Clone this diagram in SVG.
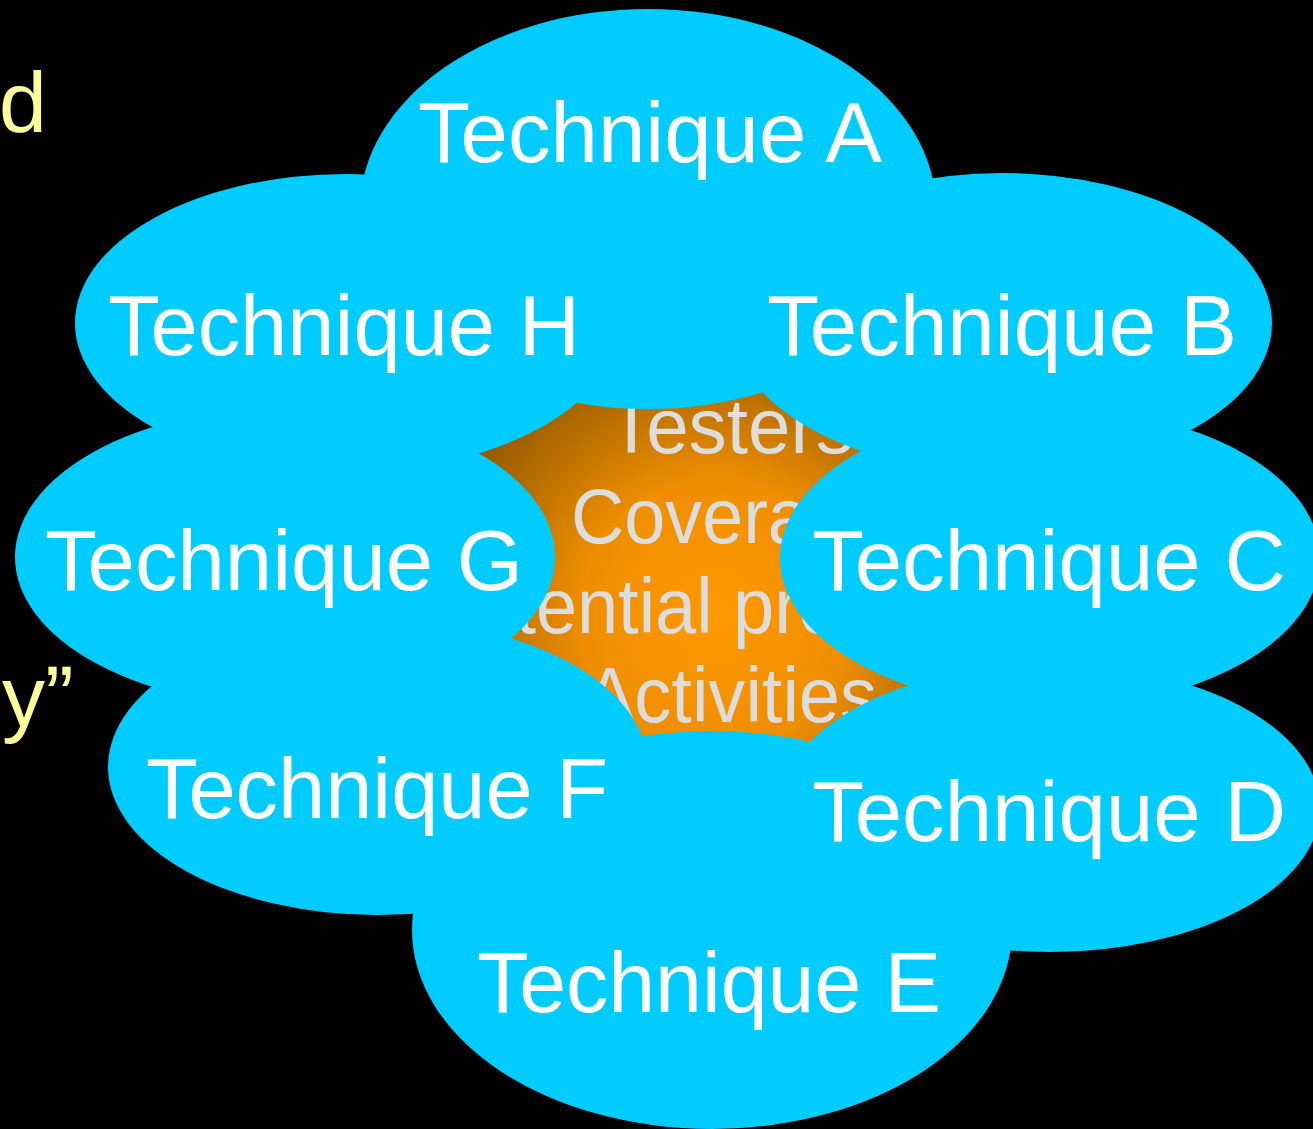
<svg xmlns="http://www.w3.org/2000/svg" width="1313" height="1129" viewBox="0 0 1313 1129">
  <style>
    .petal { fill: #00CCFF; }
    .label { fill: #FFFFFF; font-family: "Liberation Sans", Arial, sans-serif; font-size: 86px; text-anchor: middle; }
    .core { fill: #DDDDDD; font-family: "Liberation Sans", Arial, sans-serif; font-size: 77px; text-anchor: middle; }
    .side { fill: #FFFF99; font-family: "Liberation Sans", Arial, sans-serif; font-size: 86px; }
  </style>
  <defs>
    <radialGradient id="coreFill" gradientUnits="userSpaceOnUse" cx="715" cy="615" r="300">
      <stop offset="0" stop-color="#FF9900"/>
      <stop offset="0.45" stop-color="#EE8E00"/>
      <stop offset="1" stop-color="#8A5400"/>
    </radialGradient>
    <clipPath id="coreClip">
      <rect x="470" y="385" width="445" height="360"/>
    </clipPath>
  </defs>

  <rect width="1313" height="1129" fill="#000000"/>

  <!-- fragments of the slide text at the left edge -->
  <text class="side" x="-1" y="132">d</text>
  <text class="side" x="2" y="726">y”</text>

  <!-- centre: the dimensions seen through the gap between the petals -->
  <g id="core">
    <rect x="470" y="385" width="445" height="360" fill="url(#coreFill)"/>
    <g clip-path="url(#coreClip)">
      <text class="core" x="731" y="453" textLength="246" lengthAdjust="spacingAndGlyphs">Testers</text>
      <text class="core" x="731" y="543" textLength="320" lengthAdjust="spacingAndGlyphs">Coverage</text>
      <text class="core" x="731" y="633" textLength="612" lengthAdjust="spacingAndGlyphs">Potential problems</text>
      <text class="core" x="731" y="722" textLength="292" lengthAdjust="spacingAndGlyphs">Activities</text>
    </g>
  </g>

  <!-- petals, ordered so no petal covers another one's label -->
  <g id="technique-a">
    <ellipse class="petal" cx="648" cy="209" rx="288" ry="200"/>
    <text class="label" x="650" y="162" textLength="464" lengthAdjust="spacingAndGlyphs">Technique A</text>
  </g>
  <g id="technique-e">
    <ellipse class="petal" cx="712" cy="930" rx="300" ry="199"/>
    <text class="label" x="709" y="1012" textLength="464" lengthAdjust="spacingAndGlyphs">Technique E</text>
  </g>
  <g id="technique-h">
    <ellipse class="petal" cx="347" cy="323" rx="272" ry="149"/>
    <text class="label" x="344" y="355" textLength="472" lengthAdjust="spacingAndGlyphs">Technique H</text>
  </g>
  <g id="technique-b">
    <ellipse class="petal" cx="1002" cy="323" rx="270" ry="150"/>
    <text class="label" x="1002" y="355" textLength="470" lengthAdjust="spacingAndGlyphs">Technique B</text>
  </g>
  <g id="technique-g">
    <ellipse class="petal" cx="285" cy="557" rx="270" ry="149"/>
    <text class="label" x="284" y="590" textLength="478" lengthAdjust="spacingAndGlyphs">Technique G</text>
  </g>
  <g id="technique-c">
    <ellipse class="petal" cx="1050" cy="558" rx="270" ry="150"/>
    <text class="label" x="1049" y="590" textLength="474" lengthAdjust="spacingAndGlyphs">Technique C</text>
  </g>
  <g id="technique-f">
    <ellipse class="petal" cx="378" cy="767" rx="270" ry="148"/>
    <text class="label" x="377" y="818" textLength="462" lengthAdjust="spacingAndGlyphs">Technique F</text>
  </g>
  <g id="technique-d">
    <ellipse class="petal" cx="1050" cy="808" rx="270" ry="144"/>
    <text class="label" x="1049" y="841" textLength="474" lengthAdjust="spacingAndGlyphs">Technique D</text>
  </g>

  <!-- no connectors in this figure -->
  <g id="connectors"/>
</svg>
